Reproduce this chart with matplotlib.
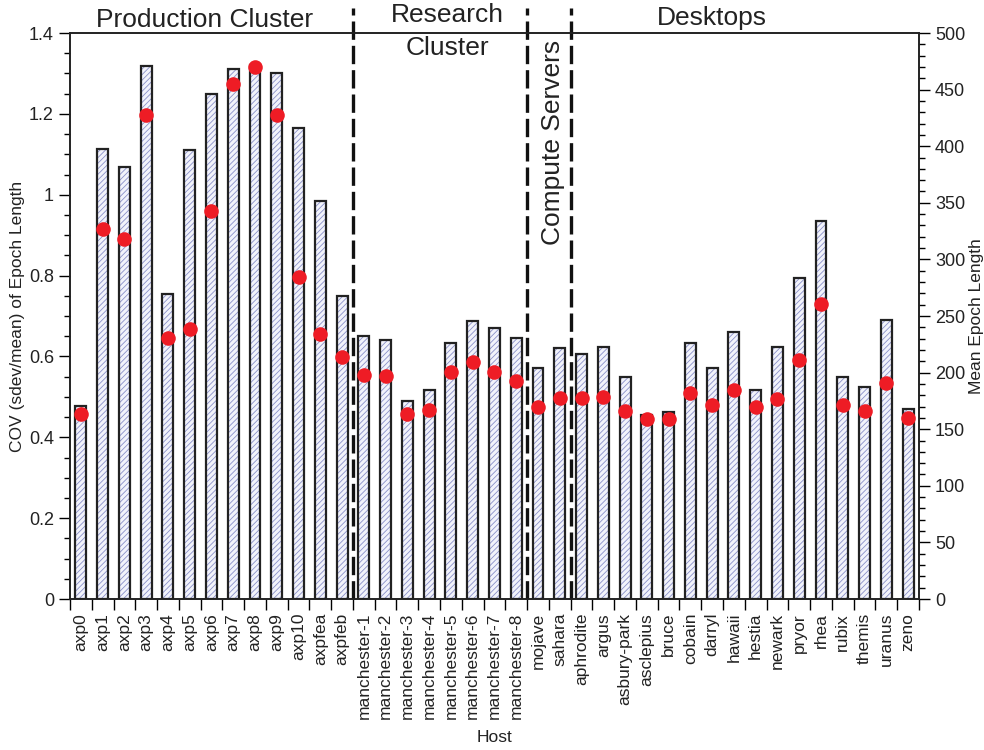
import numpy as np
import matplotlib
matplotlib.use("Agg")
import matplotlib.pyplot as plt
import matplotlib.transforms as mtransforms
from matplotlib.ticker import MultipleLocator, FixedLocator

plt.rcParams["font.family"] = ["Liberation Sans", "DejaVu Sans"]
plt.rcParams["hatch.linewidth"] = 0.6
plt.rcParams["hatch.color"] = "#8a90c8"

hosts = ["axp0", "axp1", "axp2", "axp3", "axp4", "axp5", "axp6", "axp7",
         "axp8", "axp9", "axp10", "axpfea", "axpfeb",
         "manchester-1", "manchester-2", "manchester-3", "manchester-4",
         "manchester-5", "manchester-6", "manchester-7", "manchester-8",
         "mojave", "sahara",
         "aphrodite", "argus", "asbury-park", "asclepius", "bruce", "cobain",
         "darryl", "hawaii", "hestia", "newark", "pryor", "rhea", "rubix",
         "themis", "uranus", "zeno"]

# COV of epoch length (left axis, bars)
cov = [0.477, 1.112, 1.069, 1.318, 0.754, 1.110, 1.249, 1.310,
       1.322, 1.300, 1.165, 0.985, 0.749,
       0.651, 0.641, 0.491, 0.518, 0.634, 0.688, 0.671, 0.646,
       0.571, 0.620,
       0.606, 0.624, 0.550, 0.455, 0.463, 0.634, 0.571, 0.661, 0.517,
       0.623, 0.793, 0.935, 0.548, 0.524, 0.690, 0.470]

# mean epoch length (right axis, dots)
mean_len = [163.7, 326.6, 318.3, 427.6, 230.3, 238.5, 342.8, 455.0,
            470.3, 427.6, 284.7, 233.8, 214.0,
            197.6, 197.3, 163.2, 167.2, 200.5, 209.6, 200.8, 192.8,
            169.9, 177.3,
            177.6, 178.7, 166.3, 158.7, 159.3, 181.7, 171.1, 184.6, 169.6,
            176.9, 211.1, 260.3, 171.4, 166.3, 191.1, 160.2]

# group boundaries (after these many hosts)
splits = [13, 21, 23]

txt = "#222222"

fig = plt.figure(figsize=(9.84, 7.5), dpi=100)
ax = fig.add_axes([0.0711, 0.2013, 0.8628, 0.7547])
x = np.arange(len(hosts))

ax.bar(x, cov, width=0.5, color="#f2f3fb", hatch="//////", linewidth=0, zorder=2)
ax.bar(x, cov, width=0.5, fill=False, edgecolor="#222222", linewidth=1.6, zorder=3)

ax.set_xlim(-0.5, len(hosts) - 0.5)
ax.set_ylim(0, 1.4)

ax.set_xticks(x)
ax.set_xticklabels(hosts, rotation=90, fontsize=12.5, color=txt)
ax.xaxis.set_minor_locator(FixedLocator(np.arange(len(hosts) + 1) - 0.5))
ax.tick_params(axis="x", which="major", length=0, pad=10)
ax.tick_params(axis="x", which="minor", length=8, width=1, direction="out")

ax.set_yticks(np.arange(0, 1.41, 0.2))
ax.set_yticklabels(["0", "0.2", "0.4", "0.6", "0.8", "1", "1.2", "1.4"])
ax.yaxis.set_minor_locator(MultipleLocator(0.05))
ax.tick_params(axis="y", which="major", length=8, width=1, labelsize=13,
               labelcolor=txt, direction="out")
ax.tick_params(axis="y", which="minor", length=4, width=1, direction="out")
ax.set_ylabel("COV (sdev/mean) of Epoch Length", fontsize=12.5, color=txt, labelpad=3)
ax.set_xlabel("Host", fontsize=12.5, color=txt)
ax.xaxis.set_label_coords(0.5, -0.232)

for sp in ax.spines.values():
    sp.set_linewidth(1.2)
    sp.set_color("#222222")

ax2 = ax.twinx()
ax2.plot(x, mean_len, "o", color="#ee1c25", markersize=10.5, markeredgewidth=0, zorder=5)
ax2.set_ylim(0, 500)
ax2.yaxis.set_major_locator(MultipleLocator(50))
ax2.yaxis.set_minor_locator(MultipleLocator(10))
ax2.tick_params(axis="y", which="major", length=8, width=1, labelsize=13,
                labelcolor=txt, direction="out")
ax2.tick_params(axis="y", which="minor", length=4, width=1, direction="out")
ax2.set_ylabel("Mean Epoch Length", fontsize=12.5, color=txt, labelpad=3)
for sp in ax2.spines.values():
    sp.set_linewidth(1.2)
    sp.set_color("#222222")

# dashed separators between host groups
trans = mtransforms.blended_transform_factory(ax.transData, ax.transAxes)
for s in splits:
    ax.plot([s - 0.5, s - 0.5], [0, 1.044], transform=trans,
            color="#111111", linewidth=2.4, dashes=(5.5, 1.8), clip_on=False, zorder=4)

ax.text(5.7, 1.023, "Production Cluster", transform=trans, ha="center", va="center",
        fontsize=19, color=txt)
ax.text(16.82, 1.032, "Research", transform=trans, ha="center", va="center",
        fontsize=19, color=txt)
ax.text(16.82, 0.973, "Cluster", transform=trans, ha="center", va="center",
        fontsize=19, color=txt)
ax.text(21.69, 0.807, "Compute Servers", transform=trans, ha="center", va="center",
        rotation=90, fontsize=19, color=txt)
ax.text(28.99, 1.026, "Desktops", transform=trans, ha="center", va="center",
        fontsize=19, color=txt)

fig.savefig("out.png", dpi=100)
